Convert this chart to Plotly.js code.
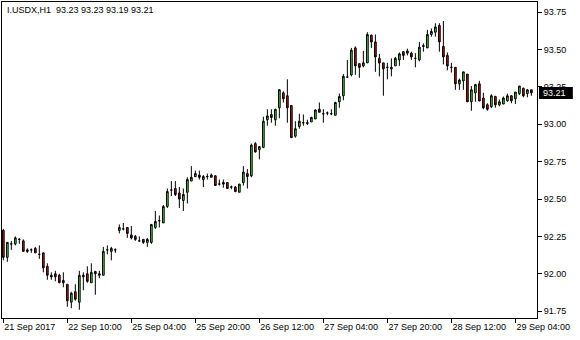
<!DOCTYPE html>
<html>
<head>
<meta charset="utf-8">
<script src="https://cdn.plot.ly/plotly-3.0.1.min.js"></script>
<style>html,body{margin:0;padding:0;background:#fff;}#chart{width:580px;height:340px;}</style>
</head>
<body>
<div id="chart"></div>
<script>
const symbolTitle = "I.USDX,H1";
const tickLabels = ["21 Sep 2017","22 Sep 10:00","25 Sep 04:00","25 Sep 20:00","26 Sep 12:00","27 Sep 04:00","27 Sep 20:00","28 Sep 12:00","29 Sep 04:00"];
const tickBars = [0,16,32,48,64,80,96,112,128];

const openP = [92.29,92.11,92.20,92.20,92.23,92.22,92.16,92.16,92.17,92.13,
92.14,92.05,91.99,92.00,91.99,91.955,91.93,91.81,91.88,91.81,
91.98,92.00,91.94,92.015,91.99,91.99,92.16,92.15,92.16,92.29,
92.30,92.31,92.26,92.25,92.22,92.23,92.21,92.21,92.31,92.355,
92.34,92.45,92.56,92.57,92.54,92.49,92.545,92.62,92.65,92.66,
92.63,92.65,92.645,92.655,92.60,92.61,92.61,92.58,92.58,92.545,
92.61,92.67,92.655,92.87,92.83,92.845,93.03,93.065,93.03,93.11,
93.21,93.19,93.125,92.92,92.985,93.01,93.005,93.015,93.035,93.10,
93.07,93.075,93.07,93.06,93.15,93.19,93.315,93.33,93.51,93.405,
93.39,93.41,93.595,93.55,93.44,93.41,93.38,93.37,93.39,93.43,
93.485,93.475,93.475,93.44,93.43,93.52,93.51,93.60,93.615,93.66,
93.52,93.46,93.38,93.38,93.27,93.29,93.335,93.15,93.21,93.27,
93.175,93.13,93.117,93.185,93.13,93.135,93.157,93.19,93.17,93.205,
93.24,93.205,93.23];
const highP = [92.30,92.21,92.22,92.25,92.24,92.23,92.17,92.17,92.18,92.19,
92.14,92.07,92.01,92.02,92.00,92.01,91.93,91.88,91.93,92.02,
92.01,92.05,92.07,92.02,92.02,92.18,92.19,92.18,92.17,92.33,
92.34,92.31,92.32,92.26,92.25,92.23,92.24,92.33,92.42,92.39,
92.46,92.57,92.62,92.62,92.58,92.57,92.645,92.72,92.69,92.69,
92.66,92.67,92.67,92.66,92.63,92.63,92.61,92.59,92.585,92.60,
92.72,92.70,92.87,92.88,92.855,93.05,93.10,93.10,93.10,93.235,
93.22,93.30,93.125,93.02,93.07,93.065,93.03,93.05,93.10,93.145,
93.10,93.085,93.10,93.15,93.205,93.335,93.43,93.51,93.52,93.405,
93.49,93.615,93.60,93.60,93.47,93.41,93.41,93.44,93.45,93.48,
93.49,93.505,93.485,93.475,93.55,93.54,93.63,93.64,93.675,93.675,
93.69,93.48,93.41,93.38,93.305,93.35,93.335,93.255,93.27,93.29,
93.21,93.14,93.20,93.19,93.165,93.185,93.205,93.195,93.215,93.255,
93.245,93.235,93.23];
const lowP = [92.09,92.08,92.16,92.19,92.20,92.15,92.14,92.14,92.14,92.10,
92.01,91.96,91.96,91.95,91.94,91.91,91.78,91.77,91.82,91.76,
91.89,91.94,91.94,91.86,91.97,91.99,92.13,92.09,92.14,92.27,
92.29,92.24,92.23,92.22,92.215,92.20,92.18,92.20,92.30,92.31,
92.34,92.44,92.52,92.52,92.44,92.42,92.47,92.62,92.645,92.63,
92.58,92.63,92.645,92.59,92.59,92.575,92.57,92.565,92.545,92.545,
92.59,92.57,92.645,92.81,92.765,92.84,92.99,93.01,92.99,93.04,
93.145,93.01,92.91,92.91,92.97,92.99,92.995,93.015,93.035,93.08,
93.01,93.06,93.06,93.06,93.11,93.16,93.31,93.32,93.33,93.31,
93.38,93.41,93.51,93.35,93.32,93.19,93.30,93.32,93.39,93.39,
93.43,93.46,93.43,93.38,93.42,93.485,93.51,93.585,93.585,93.485,
93.40,93.36,93.345,93.23,93.23,93.23,93.15,93.09,93.15,93.155,
93.10,93.09,93.107,93.11,93.12,93.135,93.15,93.14,93.135,93.195,
93.18,93.18,93.19];
const closeP = [92.11,92.21,92.20,92.24,92.23,92.15,92.15,92.16,92.14,92.13,
92.04,91.99,91.98,91.98,91.94,91.94,91.82,91.87,91.83,91.99,
91.99,91.95,92.01,92.00,92.00,92.15,92.16,92.17,92.16,92.31,
92.30,92.27,92.24,92.23,92.22,92.21,92.23,92.33,92.35,92.355,
92.45,92.55,92.56,92.53,92.50,92.53,92.63,92.645,92.67,92.645,
92.65,92.65,92.66,92.59,92.60,92.60,92.57,92.58,92.55,92.60,
92.68,92.65,92.86,92.815,92.85,93.02,93.055,93.045,93.10,93.23,
93.17,93.11,92.91,92.97,93.02,93.01,93.01,93.045,93.095,93.08,
93.07,93.075,93.07,93.145,93.185,93.32,93.315,93.495,93.39,93.38,
93.41,93.60,93.55,93.45,93.41,93.37,93.38,93.38,93.44,93.47,
93.46,93.49,93.45,93.44,93.515,93.525,93.60,93.62,93.65,93.55,
93.45,93.39,93.38,93.27,93.295,93.35,93.15,93.23,93.265,93.155,
93.11,93.10,93.19,93.13,93.15,93.175,93.19,93.157,93.215,93.255,
93.19,93.23,93.21];

const barIdx = openP.map((_, i) => i);
const lastClose = closeP[closeP.length - 1];
const last = closeP.length - 1;
const header = symbolTitle + "  " + [openP[last], highP[last], lowP[last], closeP[last]].map(v => v.toFixed(2)).join(" ");

const font = {family: "Liberation Sans, Arial, sans-serif", size: 9, color: "#000"};

const trace = {
  type: "candlestick",
  x: barIdx, open: openP, high: highP, low: lowP, close: closeP,
  increasing: {line: {color: "#000", width: 1}, fillcolor: "#32e632"},
  decreasing: {line: {color: "#000", width: 1}, fillcolor: "#d41010"},
  whiskerwidth: 0,
  hoverinfo: "skip"
};

const layout = {
  width: 580, height: 340,
  margin: {l: 2, r: 43, t: 2, b: 22, pad: 0},
  paper_bgcolor: "#fff", plot_bgcolor: "#fff",
  showlegend: false,
  boxgap: 0.4,
  font: font,
  xaxis: {
    range: [-0.33, 133.4], rangeslider: {visible: false},
    showgrid: false, zeroline: false,
    showline: true, mirror: true, linecolor: "#000", linewidth: 1,
    tickmode: "array", tickvals: tickBars, ticktext: tickLabels,
    ticks: "outside", ticklen: 4, tickcolor: "#000", tickwidth: 1,
    ticklabelposition: "outside right",
    tickfont: font, fixedrange: true
  },
  yaxis: {
    side: "right",
    range: [91.7045, 93.817],
    showgrid: false, zeroline: false,
    showline: true, mirror: true, linecolor: "#000", linewidth: 1,
    tick0: 91.75, dtick: 0.25, tickformat: ".2f",
    ticks: "outside", ticklen: 4, tickcolor: "#000", tickwidth: 1,
    tickfont: font, fixedrange: true
  },
  shapes: [{
    type: "rect", layer: "above", xref: "paper", yref: "y",
    x0: 1.0037, x1: 1.067, y0: lastClose - 0.042, y1: lastClose + 0.038,
    fillcolor: "#000", line: {width: 0}
  }],
  annotations: [
    {xref: "paper", yref: "paper", x: 0, y: 1, xanchor: "left", yanchor: "top",
     xshift: 3, yshift: -1, text: header, showarrow: false, font: font},
    {xref: "paper", yref: "y", x: 1.0075, y: lastClose, xanchor: "left", yanchor: "middle",
     text: lastClose.toFixed(2), showarrow: false, font: {family: font.family, size: 9, color: "#fff"}}
  ]
};

Plotly.newPlot("chart", [trace], layout, {displayModeBar: false, staticPlot: true});
</script>
</body>
</html>
